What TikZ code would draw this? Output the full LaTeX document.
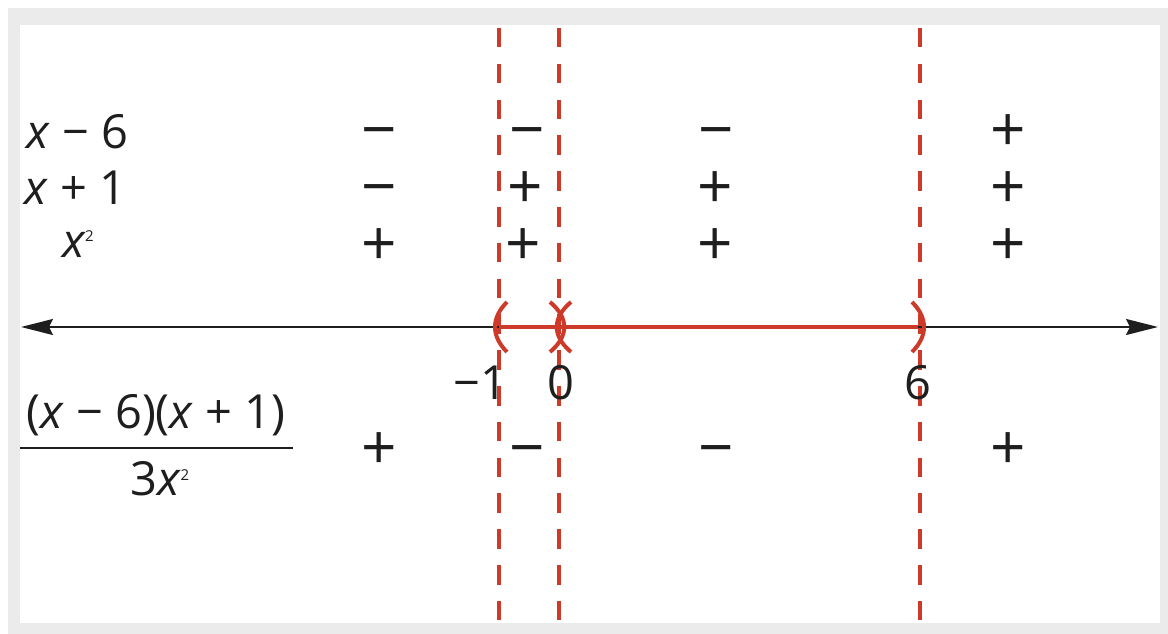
\documentclass[tikz,border=0pt]{standalone}
\usepackage{fontspec}
\setmainfont{Open Sans}
\usetikzlibrary{arrows.meta}
\definecolor{redl}{RGB}{206,58,42}
\definecolor{framegray}{RGB}{235,235,236}
\definecolor{ink}{RGB}{30,30,30}
\newcommand{\vx}{\textit{x}}
\newcommand{\sq}{\kern-0.02em\raisebox{0.33em}{\fontsize{15}{15}\selectfont 2}}
\begin{document}
\begin{tikzpicture}[x=1pt,y=-1pt,
  txt/.style={font=\fontsize{47}{50}\selectfont, text=ink, inner sep=0pt, anchor=center},
  sgn/.style={font=\fontsize{62}{64}\selectfont, text=ink, inner sep=0pt, anchor=center},
  vline/.style={draw=redl, line width=3.2pt, dash pattern=on 19.5pt off 16.3pt},
  paren/.style={draw=redl, line width=4pt},
  axis/.style={draw=ink, line width=2pt, {Stealth[length=32pt,width=16pt,inset=4pt]}-{Stealth[length=32pt,width=16pt,inset=4pt]}},
  interval/.style={draw=redl, line width=3.5pt}
]
\useasboundingbox (0,0) rectangle (1168,634);
\fill[white] (0,0) rectangle (1168,634);
\fill[framegray] (8,8) rectangle (1168,634);
\fill[white] (20,25) rectangle (1160,623);

% coordinates
\coordinate (L) at (21,327);
\coordinate (R) at (1158,327);
\coordinate (pA) at (499,327);
\coordinate (pB) at (918,327);
\foreach \n/\x in {a/499, b/559, c/920}{
  \coordinate (\n-top) at (\x,28);
  \coordinate (\n-bot) at (\x,623);
}

% dashed boundary lines
\draw[vline] (a-top) -- (a-bot);
\draw[vline] (b-top) -- (b-bot);
\draw[vline] (c-top) -- (c-bot);

% number line
\draw[axis] (L) -- (R);
\draw[interval] (pA) -- (pB);

% parentheses
\draw[paren] (507,302) .. controls (491,318) and (491,336) .. (507,352);
\draw[paren] (550,302) .. controls (569,318) and (569,336) .. (550,352);
\draw[paren] (571,302) .. controls (552,318) and (552,336) .. (571,352);
\draw[paren] (912,302) .. controls (928,318) and (928,336) .. (912,352);

% row labels
\node[txt] (r1) at (77,132) {\vx{} − 6};
\node[txt] (r2) at (75,188) {\vx{} + 1};
\node[txt] (r3) at (78,244) {\vx\sq};

% signs
\node[sgn] (s11) at (379,133) {\vphantom{+}−};
\node[sgn] (s12) at (527,133) {\vphantom{+}−};
\node[sgn] (s13) at (716,133) {\vphantom{+}−};
\node[sgn] (s14) at (1008,133) {+};
\node[sgn] (s21) at (379,190) {\vphantom{+}−};
\node[sgn] (s22) at (525,190) {+};
\node[sgn] (s23) at (715,190) {+};
\node[sgn] (s24) at (1008,190) {+};
\node[sgn] (s31) at (379,247) {+};
\node[sgn] (s32) at (523,247) {+};
\node[sgn] (s33) at (715,247) {+};
\node[sgn] (s34) at (1008,247) {+};
\node[sgn] (s41) at (379,451) {+};
\node[sgn] (s42) at (527,451) {\vphantom{+}−};
\node[sgn] (s43) at (716,451) {\vphantom{+}−};
\node[sgn] (s44) at (1008,451) {+};

% tick labels
\node[txt] (t1) at (480,383) {−1};
\node[txt] (t0) at (561,383) {0};
\node[txt] (t6) at (918,383) {6};

% fraction
\node[txt] (num) at (156,415) {(\vx{} − 6)(\vx{} + 1)};
\coordinate (barL) at (20,448);
\coordinate (barR) at (293,448);
\draw[draw=ink, line width=2pt] (barL) -- (barR);
\node[txt] (den) at (160,479) {3\vx\sq};
\end{tikzpicture}
\end{document}
